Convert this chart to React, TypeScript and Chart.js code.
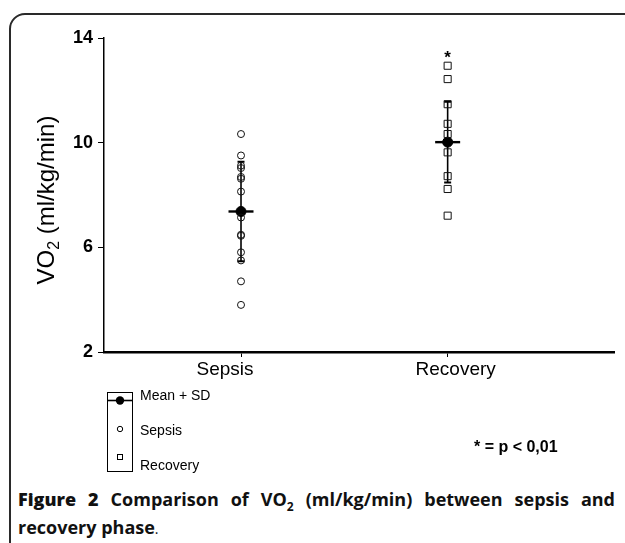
import React, { useEffect, useRef } from 'react';
import { Chart, registerables } from 'chart.js';

Chart.register(...registerables);

// ---- data ----
const categories = ['Sepsis', 'Recovery'];
const categoryX = [1, 2];
const sepsisValues = [10.33, 9.51, 9.12, 9.03, 8.69, 8.62, 8.13, 7.14, 6.48, 6.44, 5.81, 5.5, 4.7, 3.8];
const recoveryValues = [12.94, 12.43, 11.47, 10.72, 10.33, 9.63, 8.72, 8.23, 7.21];
const meanValues = [7.37, 10.02];
const sdValues = [1.9, 1.54];
const yTicks = [2, 6, 10, 14];
const starValue = 13.36;
const legendLabels = ['Mean + SD', 'Sepsis', 'Recovery'];
const pValueNote = '* = p < 0,01';
const yTitleParts = ['VO', '2', ' (ml/kg/min)'];

const FONT = '"Liberation Sans", Arial, Helvetica, sans-serif';
const LABEL_SHIFT = [-16, 8];

const decorPlugin = {
  id: 'decor',
  beforeDatasetsDraw(chart: any) {
    const { ctx, scales } = chart;
    const xs = scales.x;
    const ys = scales.y;
    ctx.save();
    ctx.strokeStyle = '#000';
    for (let i = 0; i < categoryX.length; i++) {
      const px = xs.getPixelForValue(categoryX[i]);
      const top = ys.getPixelForValue(meanValues[i] + sdValues[i]);
      const bot = ys.getPixelForValue(meanValues[i] - sdValues[i]);
      const mid = ys.getPixelForValue(meanValues[i]);
      ctx.lineWidth = 1.6;
      ctx.beginPath();
      ctx.moveTo(px, top);
      ctx.lineTo(px, bot);
      ctx.stroke();
      ctx.lineWidth = 2;
      ctx.beginPath();
      ctx.moveTo(px - 3.5, top);
      ctx.lineTo(px + 3.5, top);
      ctx.moveTo(px - 3.5, bot);
      ctx.lineTo(px + 3.5, bot);
      ctx.stroke();
      ctx.lineWidth = 2.4;
      ctx.beginPath();
      ctx.moveTo(px - 12.5, mid);
      ctx.lineTo(px + 12.5, mid);
      ctx.stroke();
    }
    ctx.restore();
  },
  afterDraw(chart: any) {
    const { ctx, scales, chartArea } = chart;
    const xs = scales.x;
    const ys = scales.y;
    ctx.save();
    ctx.fillStyle = '#000';
    ctx.strokeStyle = '#000';

    // category labels
    ctx.font = `19px ${FONT}`;
    ctx.textAlign = 'center';
    ctx.textBaseline = 'middle';
    categories.forEach((c, i) => {
      ctx.fillText(c, xs.getPixelForValue(categoryX[i]) + LABEL_SHIFT[i], chartArea.bottom + 18);
    });

    // significance star
    ctx.font = `bold 17px ${FONT}`;
    ctx.fillText('*', xs.getPixelForValue(categoryX[1]), ys.getPixelForValue(starValue) + 4);

    // y-axis title with subscript
    const cy = (chartArea.top + chartArea.bottom) / 2 + 5;
    ctx.translate(46, cy);
    ctx.rotate(-Math.PI / 2);
    const big = `24px ${FONT}`;
    const small = `16px ${FONT}`;
    ctx.font = big;
    const w0 = ctx.measureText(yTitleParts[0]).width;
    const w2 = ctx.measureText(yTitleParts[2]).width;
    ctx.font = small;
    const w1 = ctx.measureText(yTitleParts[1]).width;
    let x = -(w0 + w1 + w2) / 2;
    ctx.textAlign = 'left';
    ctx.textBaseline = 'alphabetic';
    ctx.font = big;
    ctx.fillText(yTitleParts[0], x, 8);
    x += w0;
    ctx.font = small;
    ctx.fillText(yTitleParts[1], x, 13);
    x += w1;
    ctx.font = big;
    ctx.fillText(yTitleParts[2], x, 8);
    ctx.setTransform(1, 0, 0, 1, 0, 0);

    // legend box
    const bx = chartArea.left + 3;
    const by = chartArea.bottom + 40;
    const bw = 25;
    const bh = 79;
    ctx.lineWidth = 1;
    ctx.strokeRect(bx + 0.5, by + 0.5, bw, bh);
    const cx = bx + 13;
    const rows = [by + 8.5, by + 37, by + 65];
    ctx.lineWidth = 1.6;
    ctx.beginPath();
    ctx.moveTo(bx, rows[0]);
    ctx.lineTo(bx + bw + 1, rows[0]);
    ctx.stroke();
    ctx.beginPath();
    ctx.arc(cx, rows[0], 4.2, 0, Math.PI * 2);
    ctx.fill();
    ctx.lineWidth = 1;
    ctx.beginPath();
    ctx.arc(cx, rows[1], 2.7, 0, Math.PI * 2);
    ctx.stroke();
    ctx.strokeRect(cx - 2.5, rows[2] - 2.5, 5, 5);

    ctx.font = `14px ${FONT}`;
    ctx.textAlign = 'left';
    ctx.textBaseline = 'middle';
    const ty = [by + 4, by + 39, by + 74];
    legendLabels.forEach((t, i) => ctx.fillText(t, bx + 33, ty[i]));

    // p-value note
    ctx.font = `bold 16px ${FONT}`;
    ctx.fillText(pValueNote, 474, chartArea.bottom + 96);
    ctx.restore();
  },
};

export default function App() {
  const ref = useRef<HTMLCanvasElement | null>(null);

  useEffect(() => {
    if (!ref.current) return;
    const chart = new Chart(ref.current, {
      type: 'scatter',
      data: {
        datasets: [
          {
            label: categories[0],
            data: sepsisValues.map((v) => ({ x: categoryX[0], y: v })),
            pointStyle: 'circle',
            pointRadius: 3.5,
            backgroundColor: 'rgba(255,255,255,0)',
            borderColor: '#111',
            borderWidth: 1,
          },
          {
            label: categories[1],
            data: recoveryValues.map((v) => ({ x: categoryX[1], y: v })),
            pointStyle: 'rect',
            pointRadius: 5,
            backgroundColor: 'rgba(255,255,255,0)',
            borderColor: '#111',
            borderWidth: 1,
          },
          {
            label: 'Mean',
            data: meanValues.map((v, i) => ({ x: categoryX[i], y: v })),
            pointStyle: 'circle',
            pointRadius: 5,
            backgroundColor: '#000',
            borderColor: '#000',
            borderWidth: 1,
          },
        ],
      },
      options: {
        animation: false,
        responsive: false,
        devicePixelRatio: 1,
        layout: { padding: { top: 38, right: 11, left: 0, bottom: 0 } },
        plugins: { legend: { display: false }, tooltip: { enabled: false } },
        scales: {
          x: {
            type: 'linear',
            min: 0.337,
            max: 2.805,
            afterBuildTicks: (s: any) => {
              s.ticks = categoryX.map((v) => ({ value: v }));
            },
            afterFit: (s: any) => {
              s.height = 128;
            },
            ticks: {
              callback: (v: any) => categories[categoryX.indexOf(Number(v))] ?? '',
              font: { family: FONT, size: 18 },
              color: 'rgba(0,0,0,0)',
              padding: 3,
              maxRotation: 0,
              autoSkip: false,
            },
            grid: { drawOnChartArea: false, drawTicks: true, tickLength: 5, color: '#000', lineWidth: 1 },
            border: { display: true, color: '#000', width: 2.5 },
          },
          y: {
            type: 'linear',
            min: 2,
            max: 14,
            afterBuildTicks: (s: any) => {
              s.ticks = yTicks.map((v) => ({ value: v }));
            },
            afterFit: (s: any) => {
              s.width = 104;
            },
            ticks: {
              font: { family: FONT, size: 18, weight: 'bold' },
              color: '#000',
              padding: 5,
            },
            grid: { drawOnChartArea: false, drawTicks: true, tickLength: 6, color: '#000', lineWidth: 1 },
            border: { display: true, color: '#000', width: 1.5 },
          },
        },
      },
      plugins: [decorPlugin],
    } as any);
    return () => chart.destroy();
  }, []);

  return (
    <div
      style={{
        position: 'fixed',
        left: 0,
        top: 0,
        width: 625,
        height: 543,
        overflow: 'hidden',
        background: '#fff',
      }}
    >
      <div
        style={{
          position: 'absolute',
          left: 9,
          top: 13,
          width: 700,
          height: 700,
          border: '2px solid #2a2a2a',
          borderRadius: 16,
          boxSizing: 'border-box',
        }}
      />
      <canvas ref={ref} width={625} height={480} style={{ position: 'absolute', left: 0, top: 0, display: 'block' }} />
      <div
        style={{
          position: 'absolute',
          left: 18,
          top: 485,
          width: 597,
          fontFamily: '"Open Sans", "Noto Sans", sans-serif',
          fontSize: 18,
          lineHeight: '28px',
          color: '#111',
        }}
      >
        <div style={{ textAlign: 'justify', textAlignLast: 'justify', whiteSpace: 'nowrap' }}>
          <span style={{ fontWeight: 800 }}>Figure 2 </span>
          <span style={{ fontWeight: 700 }}>
            Comparison of VO<sub style={{ fontSize: 12, lineHeight: 0 }}>2</sub> (ml/kg/min) between sepsis and
          </span>
        </div>
        <div>
          <span style={{ fontWeight: 700 }}>recovery phase</span>
          <span style={{ fontWeight: 400, fontSize: 14 }}>.</span>
        </div>
      </div>
    </div>
  );
}
